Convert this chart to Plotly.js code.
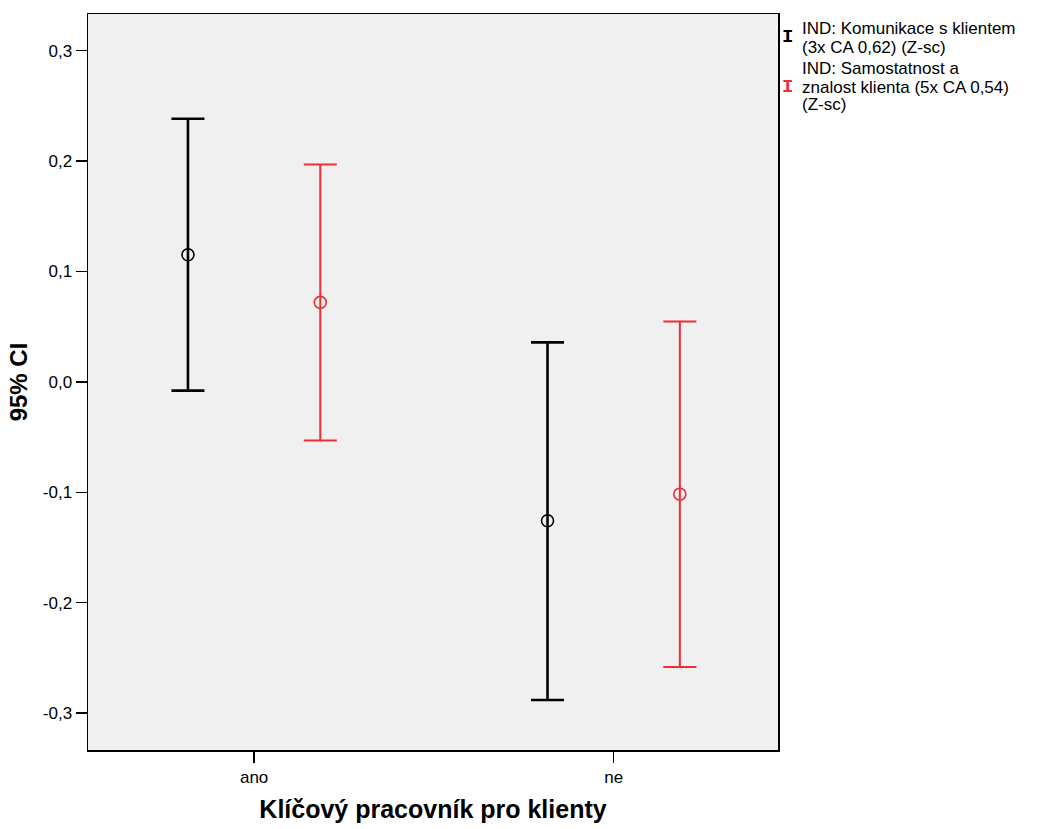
<!DOCTYPE html>
<html>
<head>
<meta charset="utf-8">
<script src="https://cdn.plot.ly/plotly-3.0.1.min.js"></script>
<style>html,body{margin:0;padding:0;background:#fff;}</style>
</head>
<body>
<div id="chart" style="width:1037px;height:829px;"></div>
<script>
// ---- data ----
const categories = ["ano", "ne"];
const seriesNames = ["IND: Komunikace s klientem (3x CA 0,62) (Z-sc)",
                     "IND: Samostatnost a znalost klienta (5x CA 0,54) (Z-sc)"];
const komunikaceMean  = [0.1152, -0.1258];
const komunikaceLower = [-0.0079, -0.2881];
const komunikaceUpper = [0.2383, 0.0358];
const samostatnostMean  = [0.0720, -0.1017];
const samostatnostLower = [-0.0530, -0.2583];
const samostatnostUpper = [0.1969, 0.0546];
const yTickVals = [-0.3, -0.2, -0.1, 0.0, 0.1, 0.2, 0.3];
const yTickText = ["-0,3", "-0,2", "-0,1", "0,0", "0,1", "0,2", "0,3"];
const legendLines1 = ["IND: Komunikace s klientem", "(3x CA 0,62) (Z-sc)"];
const legendLines2 = ["IND: Samostatnost a", "znalost klienta (5x CA 0,54)", "(Z-sc)"];

const BLACK = "#000000";
const RED = "#ee2e36";
const FONT = "Liberation Sans, Arial, sans-serif";

function ciTrace(name, mean, lower, upper, color, thick) {
  return {
    type: "scatter",
    mode: "markers",
    name: name,
    x: categories,
    y: mean,
    marker: {symbol: "circle-open", size: 12, color: color, line: {color: color, width: 1.6}},
    error_y: {
      type: "data", symmetric: false,
      array: upper.map((u, i) => u - mean[i]),
      arrayminus: lower.map((l, i) => mean[i] - l),
      color: color, thickness: thick, width: 16.5
    },
    showlegend: false,
    hoverinfo: "skip"
  };
}

const traces = [
  ciTrace(seriesNames[0], komunikaceMean, komunikaceLower, komunikaceUpper, BLACK, 2.6),
  ciTrace(seriesNames[1], samostatnostMean, samostatnostLower, samostatnostUpper, RED, 2)
];

// legend as annotations
const L = 88, R = 778, T = 14, B = 750;
const px = v => (v - L) / (R - L);
const py = v => (B - v) / (B - T);
const annotations = [];
function legendGlyph(cy, color) {
  annotations.push({xref: "paper", yref: "paper", x: px(787), y: py(cy), xanchor: "center", yanchor: "middle",
    text: "<b>I</b>", showarrow: false, borderpad: 0,
    font: {family: "Liberation Mono, DejaVu Sans Mono, monospace", size: 19, color: color}});
}
function legendText(lines, firstY) {
  lines.forEach((t, i) => annotations.push({xref: "paper", yref: "paper", x: px(801), y: py(firstY + i * 18),
    xanchor: "left", yanchor: "middle", text: t, showarrow: false, align: "left", borderpad: 0,
    font: {family: FONT, size: 17, color: "#000"}}));
}
legendGlyph(37, BLACK);
legendText(legendLines1, 29);
legendGlyph(87, RED);
legendText(legendLines2, 69);

const layout = {
  width: 1037, height: 829,
  paper_bgcolor: "#ffffff",
  plot_bgcolor: "#f0f0f0",
  margin: {l: L, r: 1037 - R, t: T, b: 829 - B, pad: 0},
  font: {family: FONT, color: "#000"},
  scattermode: "group",
  scattergap: 0.264,
  showlegend: false,
  xaxis: {
    type: "category",
    range: [-0.462, 1.457],
    showline: true, linecolor: "#000", linewidth: 1.5, mirror: true,
    ticks: "outside", ticklen: 11, tickwidth: 1.5, tickcolor: "#000",
    showgrid: false, zeroline: false,
    tickfont: {size: 17, family: FONT},
    title: {text: "<b>Klíčový pracovník pro klienty</b>", font: {size: 25, family: FONT}, standoff: 14}
  },
  yaxis: {
    range: [-0.3334, 0.3332],
    tickmode: "array", tickvals: yTickVals, ticktext: yTickText,
    showline: true, linecolor: "#000", linewidth: 1.5, mirror: true,
    ticks: "outside", ticklen: 11, tickwidth: 1.5, tickcolor: "#000",
    showgrid: false, zeroline: false,
    tickfont: {size: 17, family: FONT},
    title: {text: "<b>95% CI</b>", font: {size: 24, family: FONT}, standoff: 8}
  },
  annotations: annotations
};

Plotly.newPlot("chart", traces, layout, {displayModeBar: false, staticPlot: true});
</script>
</body>
</html>
